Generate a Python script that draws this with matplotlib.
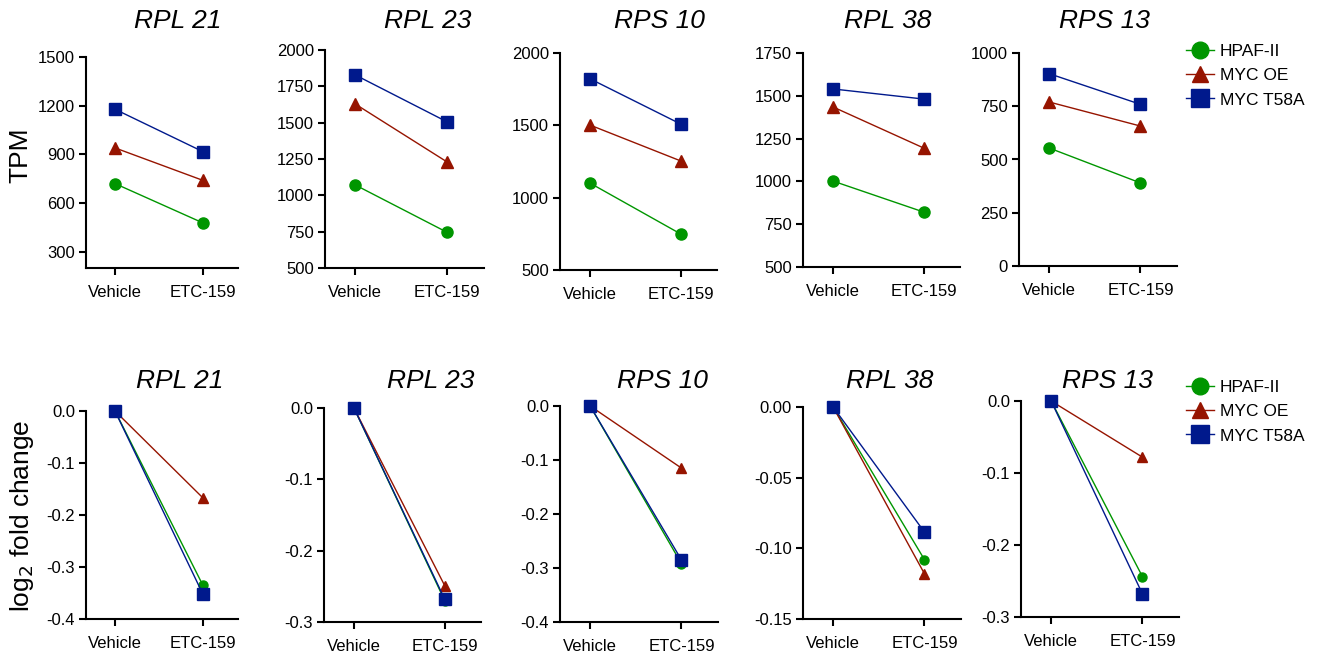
import numpy as np
import matplotlib
matplotlib.use("Agg")
import matplotlib.pyplot as plt
from matplotlib.ticker import FormatStrFormatter

plt.rcParams['font.family'] = ['Liberation Sans', 'DejaVu Sans']
plt.rcParams['axes.unicode_minus'] = False

# data
genes = ['RPL 21', 'RPL 23', 'RPS 10', 'RPL 38', 'RPS 13']
conditions = ['Vehicle', 'ETC-159']
lines_names = ['HPAF-II', 'MYC OE', 'MYC T58A']

# TPM, [vehicle, etc-159] per gene
tpm_hpaf = [[720, 478], [1071, 745], [1101, 749], [1002, 821], [554, 390]]
tpm_myc_oe = [[940, 740], [1628, 1229], [1502, 1254], [1435, 1195], [770, 657]]
tpm_myc_t58a = [[1178, 917], [1828, 1505], [1822, 1509], [1540, 1481], [903, 759]]

# log2 fold change
lfc_hpaf = [[0, -0.335], [0, -0.270], [0, -0.292], [0, -0.108], [0, -0.244]]
lfc_myc_oe = [[0, -0.167], [0, -0.249], [0, -0.115], [0, -0.118], [0, -0.078]]
lfc_myc_t58a = [[0, -0.352], [0, -0.268], [0, -0.285], [0, -0.0885], [0, -0.268]]

tpm_ylims = [(200, 1500), (500, 2000), (500, 2000), (500, 1750), (0, 1000)]
tpm_ticks = [[300, 600, 900, 1200, 1500],
             [500, 750, 1000, 1250, 1500, 1750, 2000],
             [500, 1000, 1500, 2000],
             [500, 750, 1000, 1250, 1500, 1750],
             [0, 250, 500, 750, 1000]]
lfc_ylims = [(-0.4, 0), (-0.3, 0), (-0.4, 0), (-0.15, 0), (-0.3, 0)]
lfc_ticks = [[-0.4, -0.3, -0.2, -0.1, 0.0],
             [-0.3, -0.2, -0.1, 0.0],
             [-0.4, -0.3, -0.2, -0.1, 0.0],
             [-0.15, -0.10, -0.05, 0.00],
             [-0.3, -0.2, -0.1, 0.0]]
lfc_fmt = ['%.1f', '%.1f', '%.1f', '%.2f', '%.1f']

colors = ['#009600', '#961400', '#00198C']
markers = ['o', '^', 's']

W, H = 1317, 654
fig = plt.figure(figsize=(W / 100, H / 100), dpi=100)

# axes boxes in pixels: left, right, top, bottom
top_boxes = [(86, 238, 57, 268), (325, 484, 50, 268), (560, 717, 53, 270),
             (803, 960, 53, 267), (1019, 1177, 53, 266)]
bot_boxes = [(86, 238, 411, 619), (324, 481, 408, 622), (560, 718, 406, 622),
             (803, 961, 407, 619), (1021, 1179, 401, 617)]
top_title_x = [178, 428, 659, 888, 1104]
bot_title_x = [180, 431, 662, 890, 1107]


def make_ax(box):
    l, r, t, b = box
    ax = fig.add_axes([l / W, 1 - b / H, (r - l) / W, (b - t) / H])
    for s in ['top', 'right']:
        ax.spines[s].set_visible(False)
    for s in ['left', 'bottom']:
        ax.spines[s].set_linewidth(1.5)
    ax.tick_params(width=1.5, length=5, labelsize=12, pad=3)
    ax.tick_params(axis='x', pad=7)
    ax.set_xlim(-0.33, 1.40)
    ax.set_xticks([0, 1])
    ax.set_xticklabels(conditions)
    return ax


def add_legend(ax, top_px):
    handles, labels = ax.get_legend_handles_labels()
    leg = fig.legend(handles, labels, loc='upper left',
                     bbox_to_anchor=(1186 / W, 1 - top_px / H), frameon=False,
                     fontsize=12.5, handlelength=1.6, handletextpad=0.35,
                     labelspacing=0.52, borderpad=0, borderaxespad=0)
    for h, m in zip(leg.legend_handles, markers):
        h.set_markersize(12.5 if m == 's' else 12)


x = np.arange(len(conditions))
tpm_all = [tpm_hpaf, tpm_myc_oe, tpm_myc_t58a]
lfc_all = [lfc_hpaf, lfc_myc_oe, lfc_myc_t58a]

for i, gene in enumerate(genes):
    # top row: TPM
    ax = make_ax(top_boxes[i])
    for j in range(3):
        ax.plot(x, tpm_all[j][i], color=colors[j], marker=markers[j],
                ms=8 if markers[j] != '^' else 8.5, lw=1.0, clip_on=False,
                label=lines_names[j])
    ax.set_ylim(*tpm_ylims[i])
    ax.set_yticks(tpm_ticks[i])
    fig.text(top_title_x[i] / W, 1 - 21 / H, gene, style='italic',
             fontsize=19, ha='center', va='center')
    if i == 4:
        add_legend(ax, 44)

    # bottom row: log2 fold change
    ax = make_ax(bot_boxes[i])
    sizes = [6.5, 7, 8]
    for j in range(3):
        ax.plot(x, lfc_all[j][i], color=colors[j], marker=markers[j],
                ms=sizes[j], lw=1.0, clip_on=False, label=lines_names[j])
    ax.set_ylim(*lfc_ylims[i])
    ax.set_yticks(lfc_ticks[i])
    ax.yaxis.set_major_formatter(FormatStrFormatter(lfc_fmt[i]))
    fig.text(bot_title_x[i] / W, 1 - 381 / H, gene, style='italic',
             fontsize=19, ha='center', va='center')
    if i == 4:
        add_legend(ax, 380)

fig.text(20 / W, 1 - 155 / H, 'TPM', rotation=90, fontsize=19,
         ha='center', va='center')
fig.text(22 / W, 1 - 516 / H, 'log$_2$ fold change', rotation=90, fontsize=19,
         ha='center', va='center')

fig.savefig('out.png', dpi=100)
